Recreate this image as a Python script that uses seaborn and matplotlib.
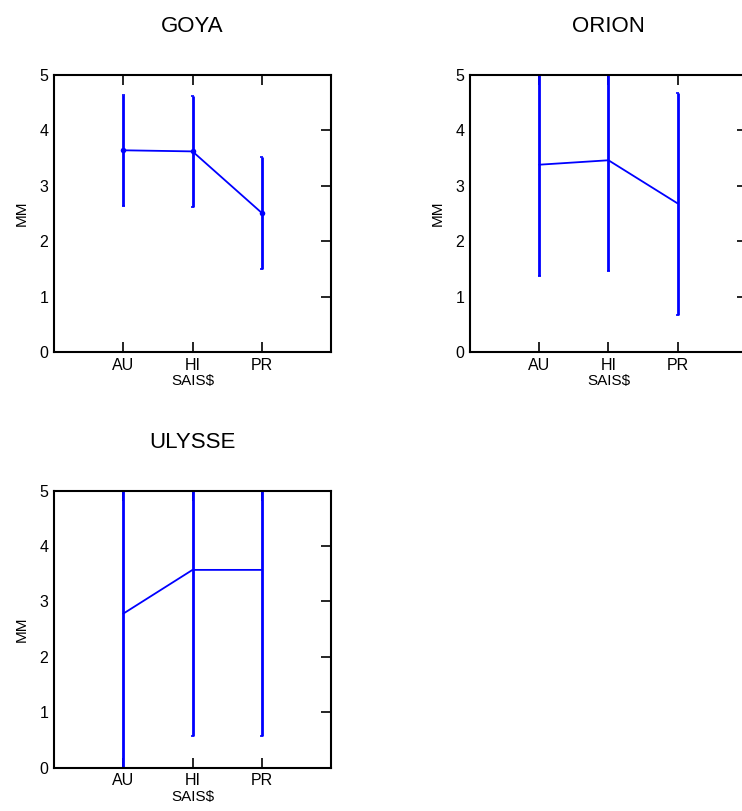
import numpy as np
import pandas as pd
import seaborn as sns
import matplotlib.pyplot as plt

OUTPUT_IMAGE = 'out.png'

# categories (SAIS$)
seasons = ['AU', 'HI', 'PR']
panels = ['GOYA', 'ORION', 'ULYSSE']

# mean MM per season and the error bar ends
goya_mean = [3.64, 3.62, 2.51]
goya_low = [2.64, 2.61, 1.50]
goya_high = [4.64, 4.62, 3.51]

orion_mean = [3.38, 3.46, 2.68]
orion_low = [1.38, 1.47, 0.67]
orion_high = [5.38, 5.45, 4.68]

ulysse_mean = [2.78, 3.57, 3.57]
ulysse_low = [-0.22, 0.58, 0.58]
ulysse_high = [5.78, 6.57, 6.57]

y_ticks = [0, 1, 2, 3, 4, 5]

sns.set_style('white')
plt.rcParams['font.family'] = ['Liberation Sans', 'DejaVu Sans']
plt.rcParams['text.color'] = 'black'
plt.rcParams['axes.labelcolor'] = 'black'

BLUE = '#0000ff'


def draw_panel(ax, title, mean, low, high, dots=False):
    df = pd.DataFrame({'pos': np.arange(1, len(seasons) + 1), 'MM': mean,
                       'low': low, 'high': high})
    sns.lineplot(data=df, x='pos', y='MM', ax=ax, color=BLUE, linewidth=1.3,
                 marker='o' if dots else None, markersize=4,
                 markeredgewidth=0)
    ax.vlines(df['pos'], df['low'], df['high'], color=BLUE, linewidth=2)
    # tiny caps at both ends
    ax.hlines(df['low'], df['pos'] - 0.02, df['pos'] + 0.02, color=BLUE, linewidth=1.2)
    ax.hlines(df['high'], df['pos'] - 0.02, df['pos'] + 0.02, color=BLUE, linewidth=1.2)

    ax.set_xlim(0, len(seasons) + 1)
    ax.set_ylim(0, 5)
    ax.set_xticks(df['pos'])
    ax.set_xticklabels(seasons)
    ax.set_yticks(y_ticks)
    ax.set_xlabel('SAIS$', fontsize=11, labelpad=1)
    ax.set_ylabel('MM', fontsize=11, labelpad=8)
    ax.tick_params(axis='x', direction='in', length=7, width=1.2, top=True,
                   bottom=True, labelsize=11.5, pad=4, colors='black')
    ax.tick_params(axis='y', direction='in', length=7, width=1.2, right=True,
                   left=False, labelsize=11.5, pad=4, colors='black')
    for s in ax.spines.values():
        s.set_visible(True)
        s.set_color('black')
        s.set_linewidth(1.5)
    ax.set_title(title, fontsize=16, pad=31, color='black')


fig = plt.figure(figsize=(7.42, 8.11), dpi=100)
ax1 = fig.add_axes([0.0728, 0.566, 0.3733, 0.3416])
ax2 = fig.add_axes([0.6334, 0.566, 0.3733, 0.3416])
ax3 = fig.add_axes([0.0728, 0.0534, 0.3733, 0.3416])

draw_panel(ax1, panels[0], goya_mean, goya_low, goya_high, dots=True)
draw_panel(ax2, panels[1], orion_mean, orion_low, orion_high)
draw_panel(ax3, panels[2], ulysse_mean, ulysse_low, ulysse_high)

fig.savefig(OUTPUT_IMAGE, dpi=100)
